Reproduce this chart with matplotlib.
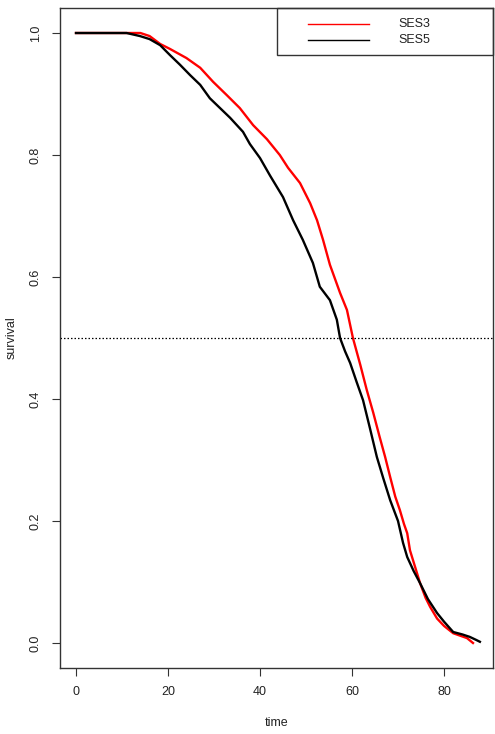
import matplotlib
matplotlib.use('Agg')
import matplotlib.pyplot as plt
from matplotlib.patches import Rectangle
from matplotlib.lines import Line2D

plt.rcParams['font.family'] = ['Liberation Sans', 'DejaVu Sans']

# survival curves
t_ses3 = [0, 11, 14, 16, 18.3, 20.4, 24, 27, 29.8, 32.8, 35.6, 38.5, 41.5, 44.3, 46.1, 48.7, 50.9,
          52.4, 53.7, 55.2, 57.4, 58.9, 60.2, 61.8, 63.2, 64.6, 66, 67.2, 68.3, 69.4, 70.4, 71.3,
          72, 72.6, 73.7, 74.8, 76, 77, 78.5, 80, 82, 83.5, 85, 86.3]
s_ses3 = [1.0, 1.0, 1.0, 0.995, 0.982, 0.974, 0.959, 0.943, 0.920, 0.898, 0.877, 0.849, 0.826, 0.800,
          0.779, 0.754, 0.721, 0.693, 0.661, 0.620, 0.574, 0.546, 0.5, 0.456, 0.415, 0.378, 0.338,
          0.305, 0.272, 0.240, 0.218, 0.195, 0.180, 0.152, 0.125, 0.098, 0.074, 0.059, 0.040, 0.028,
          0.016, 0.012, 0.008, 0.0]

t_ses5 = [0, 11, 13.9, 16, 18.3, 20.4, 22.6, 24.8, 27, 29.1, 31.3, 33.5, 36.3, 37.8, 40, 42.2, 45,
          47.2, 49.3, 51.5, 53, 55.2, 56.7, 57.4, 58.5, 59.6, 61, 62.4, 63.9, 65.4, 66.8, 68.3, 70,
          71.1, 72, 73.4, 74.8, 76.5, 78.5, 80, 82, 84, 85.6, 87, 87.8]
s_ses5 = [1.0, 1.0, 0.995, 0.990, 0.980, 0.964, 0.948, 0.931, 0.915, 0.893, 0.877, 0.861, 0.838,
          0.818, 0.795, 0.766, 0.731, 0.693, 0.661, 0.623, 0.584, 0.562, 0.530, 0.5, 0.478, 0.459,
          0.428, 0.398, 0.352, 0.305, 0.270, 0.234, 0.200, 0.164, 0.141, 0.118, 0.098, 0.072, 0.049,
          0.035, 0.018, 0.014, 0.010, 0.005, 0.002]

labels = ['SES3', 'SES5']
colors = ['#ff0000', '#000000']
xticks = [0, 20, 40, 60, 80]
yticks = [0.0, 0.2, 0.4, 0.6, 0.8, 1.0]

fig = plt.figure(figsize=(4.95, 7.34), dpi=100)
ax = fig.add_axes([60 / 495, 66 / 734, 433 / 495, 660 / 734])

ax.plot(t_ses3, s_ses3, color=colors[0], lw=1.7)
ax.plot(t_ses5, s_ses5, color=colors[1], lw=1.7)
ax.axhline(0.5, color='black', lw=0.9, ls=(0, (1.2, 1.6)))

ax.set_xlim(-3.48, 90.65)
ax.set_ylim(-0.041, 1.041)
ax.set_xticks(xticks)
ax.set_xticklabels([str(v) for v in xticks])
ax.set_yticks(yticks)
ax.set_yticklabels(['%.1f' % v for v in yticks], rotation=90, va='center')
ax.tick_params(labelsize=9, length=6, width=0.8, color='#333333', labelcolor='#222222', pad=7)
for sp in ax.spines.values():
    sp.set_color('#333333')
    sp.set_linewidth(1.0)
ax.set_xlabel('time', fontsize=9, color='#222222', labelpad=14)
ax.set_ylabel('survival', fontsize=9, color='#222222', labelpad=9)

# legend box like R's legend("topright")
x0, x1 = (277 - 60) / 433, 1.0
y0 = (668 - 55) / 660
ax.add_patch(Rectangle((x0, y0), x1 - x0, 1 - y0, transform=ax.transAxes, fill=False,
                       edgecolor='#333333', lw=1.0, clip_on=False, zorder=5))
for i, (lab, c) in enumerate(zip(labels, colors)):
    yy = (668 - (24 + 16 * i)) / 660
    ax.add_line(Line2D([(308 - 60) / 433, (369 - 60) / 433], [yy, yy], transform=ax.transAxes,
                       color=c, lw=1.0, zorder=6))
    ax.text((398 - 60) / 433, yy, lab, transform=ax.transAxes, fontsize=9, color='#222222',
            va='center', ha='left', zorder=6)

fig.savefig('out.png', dpi=100)
